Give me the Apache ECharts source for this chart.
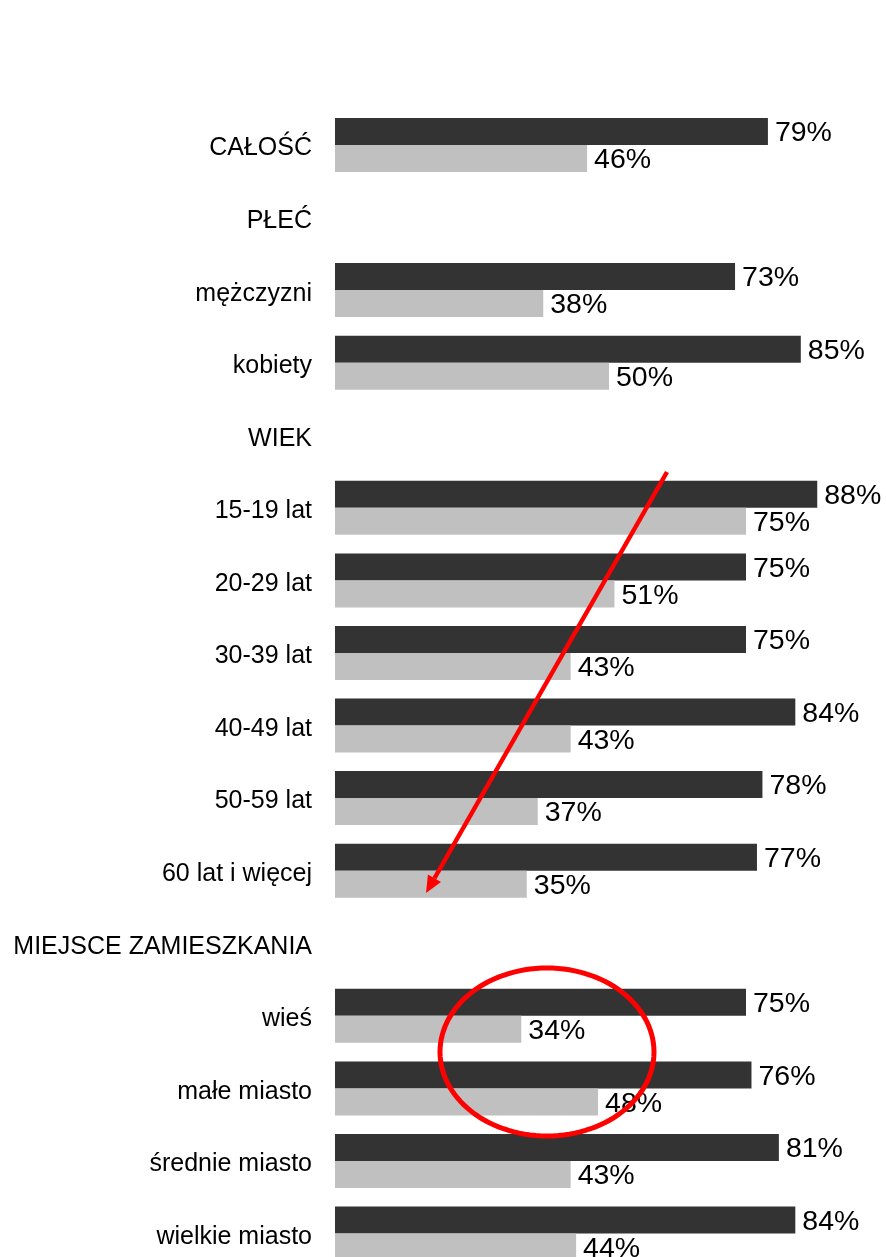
<!DOCTYPE html>
<html>
<head>
<meta charset="utf-8">
<script src="https://cdn.jsdelivr.net/npm/echarts@6/dist/echarts.min.js"></script>
<style>
html,body{margin:0;padding:0;background:#fff;overflow:hidden;}
#chart{width:886px;height:1290px;}
</style>
</head>
<body>
<div id="chart"></div>
<script>
const categories = ['CAŁOŚĆ','PŁEĆ','mężczyzni','kobiety','WIEK','15-19 lat','20-29 lat','30-39 lat','40-49 lat','50-59 lat','60 lat i więcej','MIEJSCE ZAMIESZKANIA','wieś','małe miasto','średnie miasto','wielkie miasto'];
const darkValues = [79, null, 73, 85, null, 88, 75, 75, 84, 78, 77, null, 75, 76, 81, 84];
const lightValues = [46, null, 38, 50, null, 75, 51, 43, 43, 37, 35, null, 34, 48, 43, 44];

const FONT = "'Liberation Sans', Arial, sans-serif";
const chart = echarts.init(document.getElementById('chart'), null, {renderer:'canvas'});

// annotation geometry (pixels)
const arrowStart = [667, 472], arrowTip = [426, 893];
const dx = arrowTip[0]-arrowStart[0], dy = arrowTip[1]-arrowStart[1];
const L = Math.sqrt(dx*dx+dy*dy), ux = dx/L, uy = dy/L, nx = -uy, ny = ux;
const headLen = 17, headW = 7.5;
const base = [arrowTip[0]-headLen*ux, arrowTip[1]-headLen*uy];
const ellC = [547, 1052], ellR = [107, 84];
const ellPts = [];
for (let i = 0; i < 120; i++) {
  const a = i/120*Math.PI*2;
  ellPts.push([ellC[0]+ellR[0]*Math.cos(a), ellC[1]+ellR[1]*Math.sin(a)]);
}

const labelCommon = {show:true, position:'right', distance:7, offset:[0,2], fontSize:28.5, color:'#000', fontFamily:FONT, formatter: p => p.value == null ? '' : p.value + '%'};

chart.setOption({
  animation:false,
  backgroundColor:'#fff',
  grid:{left:335, right:3, top:108.7, bottom:20.2, containLabel:false},
  xAxis:{type:'value', min:0, max:100, show:false},
  yAxis:{type:'category', data:categories, inverse:true,
    axisLine:{show:false}, axisTick:{show:false}, splitLine:{show:false},
    axisLabel:{margin:23, formatter: v => '{a|' + v + '}',
      rich:{a:{fontSize:25, color:'#000', fontFamily:FONT, padding:[7,0,0,0]}}}},
  series:[
    {type:'bar', data:darkValues, barWidth:27, barGap:'0%', itemStyle:{color:'#333333'}, label:labelCommon},
    {type:'bar', data:lightValues, barWidth:27, barGap:'0%', itemStyle:{color:'#c0c0c0'}, label:labelCommon}
  ],
  graphic:[
    {type:'line', z:100, shape:{x1:arrowStart[0], y1:arrowStart[1], x2:base[0], y2:base[1]}, style:{stroke:'#ff0000', lineWidth:4.5}},
    {type:'polygon', z:100, shape:{points:[arrowTip, [base[0]+headW*nx, base[1]+headW*ny], [base[0]-headW*nx, base[1]-headW*ny]]}, style:{fill:'#ff0000'}},
    {type:'polygon', z:100, shape:{points:ellPts}, style:{fill:null, stroke:'#ff0000', lineWidth:5}}
  ]
});
</script>
</body>
</html>
